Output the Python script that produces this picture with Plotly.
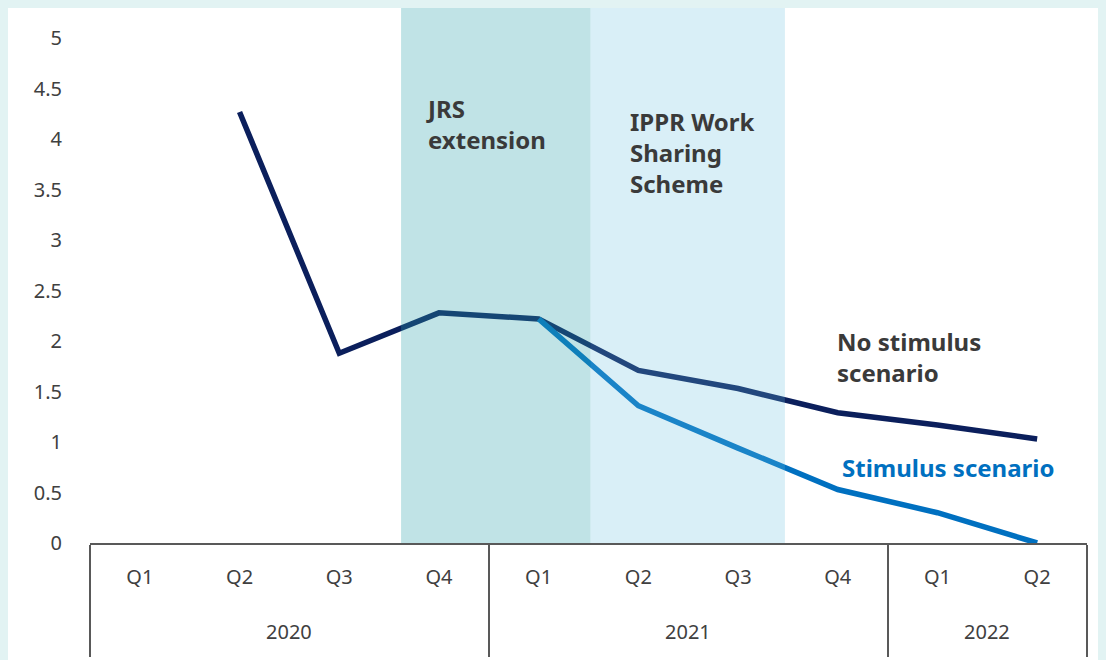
import plotly.graph_objects as go

years = ["2020", "2020", "2020", "2020", "2021", "2021", "2021", "2021", "2022", "2022"]
quarters = ["Q1", "Q2", "Q3", "Q4", "Q1", "Q2", "Q3", "Q4", "Q1", "Q2"]

no_stimulus = [None, 4.27, 1.88, 2.28, 2.22, 1.71, 1.53, 1.29, 1.17, 1.03]
stimulus = [None, None, None, None, 2.22, 1.36, 0.94, 0.53, 0.30, 0.0]

# shaded policy periods, in category index units
band_names = ["JRS extension", "IPPR Work Sharing Scheme"]
band_start = [2.62, 4.52]
band_end = [4.52, 6.47]
band_colors = ["rgba(45,162,172,0.30)", "rgba(103,191,223,0.25)"]

dark = "#0b1f5c"
blue = "#0070c0"
txt = "#3a3a3a"
tick_col = "#404040"
frame = "#e2f3f3"
font = "Noto Sans"

# year row is blank (it only sets the divider length); visible years are annotations
year_order = list(dict.fromkeys(years))
year_keys = ["<br><br>" + "\u00a0" * (year_order.index(y) + 1) for y in years]

fig = go.Figure()
fig.add_trace(go.Scatter(x=[year_keys, quarters], y=no_stimulus, mode="lines",
                         line=dict(color=dark, width=5.5)))
fig.add_trace(go.Scatter(x=[year_keys, quarters], y=stimulus, mode="lines",
                         line=dict(color=blue, width=5.5)))

for s, e, c in zip(band_start, band_end, band_colors):
    fig.add_shape(type="rect", xref="x", yref="paper", x0=s, x1=e, y0=0, y1=1,
                  fillcolor=c, line_width=0, layer="above")

for yr in year_order:
    idx = [i for i, v in enumerate(years) if v == yr]
    fig.add_annotation(text=yr, xref="x", yref="paper", x=sum(idx) / len(idx), y=-0.166,
                       xanchor="center", yanchor="middle", showarrow=False,
                       font=dict(family=font, size=20, color=tick_col))

labels = [
    ("JRS<br>extension", 0.335, 4.15, txt),
    ("IPPR Work<br>Sharing<br>Scheme", 0.540, 3.87, txt),
    ("No stimulus<br>scenario", 0.747, 1.84, txt),
    ("Stimulus scenario", 0.752, 0.75, blue),
]
for t, x, y, c in labels:
    fig.add_annotation(text="<b>" + t + "</b>", xref="paper", yref="y", x=x, y=y,
                       xanchor="left", yanchor="middle", align="left", showarrow=False,
                       font=dict(family=font, size=24, color=c))

fig.update_layout(
    width=1098, height=652,
    margin=dict(l=82, r=19, t=0, b=117),
    paper_bgcolor="white", plot_bgcolor="white",
    showlegend=False,
    font=dict(family=font, size=20, color=tick_col),
)
fig.update_xaxes(type="multicategory", range=[-0.5, 9.5], showgrid=False, showline=True,
                 linecolor="#595959", linewidth=1.5, showdividers=True, dividercolor="#595959",
                 dividerwidth=1.5, ticklabelstandoff=15,
                 tickfont=dict(size=20, color=tick_col))
fig.update_yaxes(range=[0, 5.3], tickvals=[0, 0.5, 1, 1.5, 2, 2.5, 3, 3.5, 4, 4.5, 5],
                 ticktext=["0", "0.5", "1", "1.5", "2", "2.5", "3", "3.5", "4", "4.5", "5"],
                 showgrid=False, zeroline=False, showline=False, ticklabelstandoff=27,
                 tickfont=dict(size=20, color=tick_col))

# page margin shows as the teal frame around the chart
fig.write_html("out.html", post_script="document.body.style.background='" + frame + "';"
               "document.body.style.overflow='hidden';")
